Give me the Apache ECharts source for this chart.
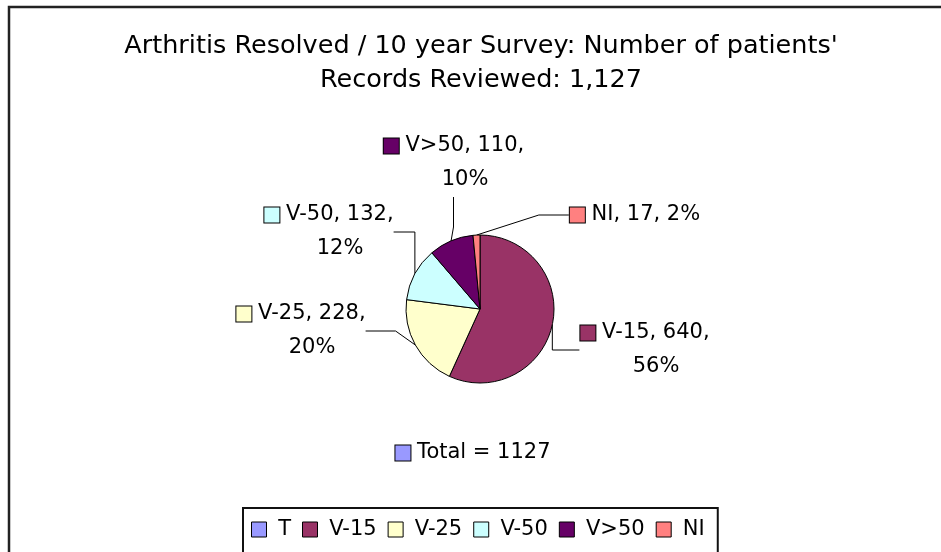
<!DOCTYPE html>
<html><head><meta charset="utf-8">
<script src="https://cdn.jsdelivr.net/npm/echarts@6/dist/echarts.min.js"></script>
<style>html,body{margin:0;padding:0;background:#fff}#c{width:941px;height:552px}</style>
</head><body><div id="c"></div>
<script>
// ---- data ----
const categories = ['T', 'V-15', 'V-25', 'V-50', 'V>50', 'NI'];
const patients = [0, 640, 228, 132, 110, 17];
const percentLabels = ['', '56%', '20%', '12%', '10%', '2%'];
const titleLines = ["Arthritis Resolved / 10 year Survey: Number of patients'", 'Records Reviewed: 1,127'];

// ---- styling / layout ----
const colors = ['#9999FF', '#993366', '#FFFFCC', '#CCFFFF', '#660066', '#FF8080'];
const FONT = 'DejaVu Sans';
const LFS = 21;
const LH = 34;
const labelPos = {
  'T': [473, 453],
  'V-15': [645, 350],
  'V-25': [301, 331],
  'V-50': [329, 232],
  'V>50': [454, 163],
  'NI': [635, 215]
};

const total = patients.reduce((a, b) => a + b, 0);

const rich = { s: { width: 22, lineHeight: LH } };
colors.forEach((c, i) => {
  rich['m' + i] = { width: 15, height: 15, backgroundColor: c, borderColor: '#000', borderWidth: 1, lineHeight: LH };
});

const data = categories.map((name, i) => {
  const item = { name: name, value: patients[i], itemStyle: { color: colors[i] } };
  if (name === 'T') item.labelLine = { show: false };
  return item;
});

const chart = echarts.init(document.getElementById('c'));
chart.setOption({
  animation: false,
  backgroundColor: '#fff',
  title: {
    text: titleLines.join('\n'),
    left: 481,
    top: 29,
    textAlign: 'center',
    padding: 0,
    textStyle: { fontFamily: FONT, fontSize: 25.5, fontWeight: 'normal', color: '#000', lineHeight: 34 }
  },
  graphic: [{
    type: 'rect', silent: true, z: 100,
    shape: { x: 9, y: 7, width: 1200, height: 1200 },
    style: { fill: 'none', stroke: '#222', lineWidth: 2.5 }
  }],
  legend: {
    data: categories,
    left: 243, top: 508,
    orient: 'horizontal',
    icon: 'rect',
    itemWidth: 15, itemHeight: 15, itemGap: 11,
    padding: [11, 13, 40, 8],
    borderColor: '#111', borderWidth: 2,
    backgroundColor: '#fff',
    itemStyle: { borderColor: '#000', borderWidth: 1 },
    formatter: n => ' ' + n,
    textStyle: { fontFamily: FONT, fontSize: LFS, color: '#000' }
  },
  series: [{
    type: 'pie',
    center: [480, 309],
    radius: 74,
    startAngle: 90,
    clockwise: true,
    avoidLabelOverlap: false,
    emphasis: { disabled: true },
    itemStyle: { borderColor: '#000', borderWidth: 1 },
    label: {
      show: true,
      fontFamily: FONT, fontSize: LFS, color: '#000', lineHeight: LH,
      align: 'center',
      rich: rich,
      formatter: p => {
        const i = p.dataIndex;
        if (categories[i] === 'T') return '{m' + i + '|} Total = ' + total;
        if (categories[i] === 'NI') return '{m' + i + '|} ' + p.name + ', ' + p.value + ', ' + percentLabels[i];
        return '{m' + i + '|} ' + p.name + ', ' + p.value + ',\n{s|}' + percentLabels[i];
      }
    },
    labelLine: { show: true, lineStyle: { color: '#000', width: 1 } },
    labelLayout: params => {
      const name = categories[params.dataIndex];
      const pos = labelPos[name];
      return { x: pos[0], y: pos[1], align: 'center', verticalAlign: 'middle' };
    },
    data: data
  }]
});
</script></body></html>
